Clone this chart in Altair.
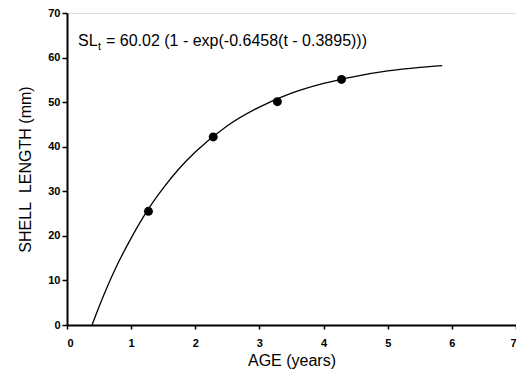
import altair as alt
import pandas as pd

# observed mean lengths
age_obs = [1.27, 2.28, 3.28, 4.28]
len_obs = [25.5, 42.2, 50.1, 55.1]

# fitted curve, values
age_fit = [0.39, 0.5, 0.75, 1.0, 1.25, 1.5, 1.75, 2.0, 2.5, 3.0, 3.5, 4.0, 4.5, 5.0, 5.5, 5.85]
len_fit = [0.0, 4.1, 12.5, 19.5, 25.6, 30.7, 35.1, 38.8, 44.7, 48.9, 52.0, 54.2, 55.8, 57.0, 57.8, 58.2]

x_ticks = [0, 1, 2, 3, 4, 5, 6, 7]
y_ticks = [0, 10, 20, 30, 40, 50, 60, 70]

obs = pd.DataFrame({"age": age_obs, "len": len_obs})
fit = pd.DataFrame({"age": age_fit, "len": len_fit})

FONT = "Liberation Sans"

xs = alt.Scale(domain=[0, 7], nice=False, zero=False)
ys = alt.Scale(domain=[0, 70], nice=False)

x_axis = alt.Axis(title="AGE (years)", values=x_ticks, format="d", grid=False,
                  domainColor="black", domainWidth=2, tickColor="black", tickSize=4,
                  tickWidth=1.5, labelFont=FONT, labelFontSize=11, labelFontWeight="bold",
                  labelColor="black", labelPadding=8, titleFont=FONT, titleFontSize=16,
                  titleFontWeight="normal", titleColor="black", titlePadding=4)
y_axis = alt.Axis(title="SHELL\u00a0 LENGTH (mm)", values=y_ticks, format="d", grid=False,
                  domainColor="black", domainWidth=2, tickColor="black", tickSize=5,
                  tickWidth=1.5, labelFont=FONT, labelFontSize=11, labelFontWeight="bold",
                  labelColor="black", labelPadding=2, titleFont=FONT, titleFontSize=16,
                  titleFontWeight="normal", titleColor="black", titlePadding=14)

line = alt.Chart(fit).mark_line(color="black", strokeWidth=1.3, interpolate="monotone").encode(
    x=alt.X("age:Q", scale=xs, axis=x_axis),
    y=alt.Y("len:Q", scale=ys, axis=y_axis),
)

pts = alt.Chart(obs).mark_circle(color="black", opacity=1, size=80).encode(
    x=alt.X("age:Q", scale=xs),
    y=alt.Y("len:Q", scale=ys),
)

eq_main = alt.Chart(pd.DataFrame({"t": ["SL"]})).mark_text(
    font=FONT, fontSize=16, align="left", baseline="alphabetic", color="black"
).encode(x=alt.value(11), y=alt.value(33), text="t:N")

eq_sub = alt.Chart(pd.DataFrame({"t": ["t"]})).mark_text(
    font=FONT, fontSize=11, align="left", baseline="alphabetic", color="black"
).encode(x=alt.value(31), y=alt.value(37), text="t:N")

eq_rest = alt.Chart(pd.DataFrame({"t": ["= 60.02 (1 - exp(-0.6458(t - 0.3895)))"]})).mark_text(
    font=FONT, fontSize=16, align="left", baseline="alphabetic", color="black"
).encode(x=alt.value(39), y=alt.value(33), text="t:N")

chart = alt.layer(line, pts, eq_main, eq_sub, eq_rest).properties(
    width=449, height=312,
    padding={"left": 59, "top": 5, "right": 0, "bottom": 48},
    autosize=alt.AutoSizeParams(type="none"),
).configure_view(stroke="black", strokeWidth=1.5).configure(background="white")

chart.save("out.html", embed_options={"renderer": "svg", "actions": False})
